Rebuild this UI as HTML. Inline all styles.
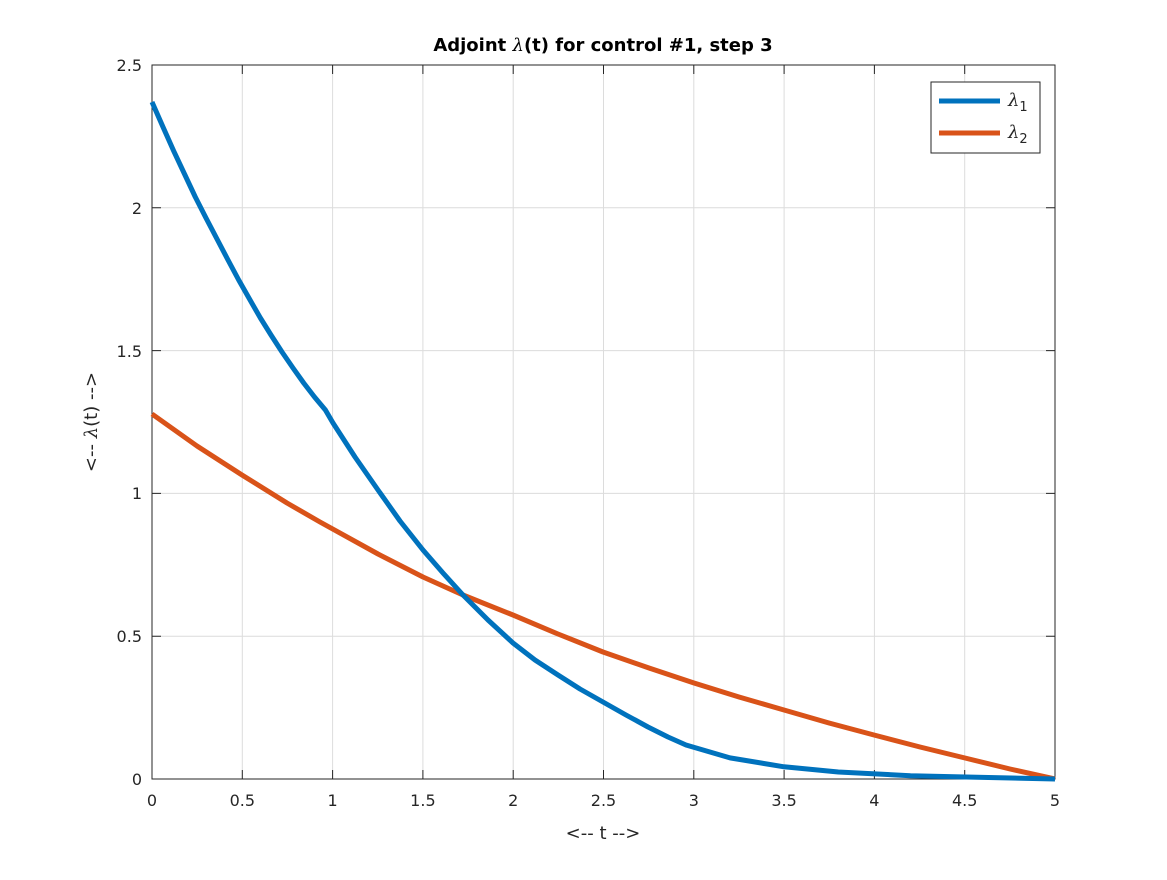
<!DOCTYPE html>
<html><head><style>body{margin:0;background:#fff}</style></head><body>
<svg width="1167" height="875" xmlns="http://www.w3.org/2000/svg" font-family="DejaVu Sans, Liberation Sans, sans-serif">
<rect width="1167" height="875" fill="#fff"/>
<g stroke="#dcdcdc" stroke-width="1">
<line x1="242.3" y1="65" x2="242.3" y2="779"/><line x1="332.6" y1="65" x2="332.6" y2="779"/>
<line x1="422.9" y1="65" x2="422.9" y2="779"/><line x1="513.2" y1="65" x2="513.2" y2="779"/>
<line x1="603.5" y1="65" x2="603.5" y2="779"/><line x1="693.8" y1="65" x2="693.8" y2="779"/>
<line x1="784.1" y1="65" x2="784.1" y2="779"/><line x1="874.4" y1="65" x2="874.4" y2="779"/>
<line x1="964.7" y1="65" x2="964.7" y2="779"/>
<line x1="152" y1="636.2" x2="1055" y2="636.2"/><line x1="152" y1="493.4" x2="1055" y2="493.4"/>
<line x1="152" y1="350.6" x2="1055" y2="350.6"/><line x1="152" y1="207.8" x2="1055" y2="207.8"/>
</g>
<rect x="152" y="65" width="903" height="714" fill="none" stroke="#262626" stroke-width="1"/>
<g stroke="#262626" stroke-width="1">
<path d="M242.3 779v-9M332.6 779v-9M422.9 779v-9M513.2 779v-9M603.5 779v-9M693.8 779v-9M784.1 779v-9M874.4 779v-9M964.7 779v-9"/>
<path d="M242.3 65v9M332.6 65v9M422.9 65v9M513.2 65v9M603.5 65v9M693.8 65v9M784.1 65v9M874.4 65v9M964.7 65v9"/>
<path d="M152 636.2h9M152 493.4h9M152 350.6h9M152 207.8h9M1055 636.2h-9M1055 493.4h-9M1055 350.6h-9M1055 207.8h-9"/>
</g>
<g font-size="16" fill="#262626" text-anchor="middle">
<text x="152" y="806">0</text><text x="242.3" y="806">0.5</text><text x="332.6" y="806">1</text><text x="422.9" y="806">1.5</text><text x="513.2" y="806">2</text><text x="603.5" y="806">2.5</text><text x="693.8" y="806">3</text><text x="784.1" y="806">3.5</text><text x="874.4" y="806">4</text><text x="964.7" y="806">4.5</text><text x="1055" y="806">5</text>
</g>
<g font-size="16" fill="#262626" text-anchor="end">
<text x="142" y="785">0</text><text x="142" y="642">0.5</text><text x="142" y="499">1</text><text x="142" y="357">1.5</text><text x="142" y="214">2</text><text x="142" y="71">2.5</text>
</g>
<text x="603" y="839" font-size="18" fill="#262626" text-anchor="middle">&lt;-- t --&gt;</text>
<text transform="translate(97,422) rotate(-90)" font-size="18" fill="#262626" text-anchor="middle">&lt;-- <tspan font-family="DejaVu Serif, serif" font-style="italic">λ</tspan>(t) --&gt;</text>
<text x="603" y="51" font-size="18" font-weight="bold" fill="#000" text-anchor="middle">Adjoint <tspan font-family="DejaVu Serif, serif" font-style="italic" font-weight="normal">λ</tspan>(t) for control #1, step 3</text>
<polyline fill="none" stroke="#D95319" stroke-width="5" stroke-linejoin="round" points="152,414 197,446 242,475 287,503 320,522 378,554 423,577 463,595 513,615 558,634 603,652 649,668 694,683 739,697 784,710 829,723 874,735 920,747 965,758 1010,769 1055,779"/>
<polyline fill="none" stroke="#0072BD" stroke-width="5" stroke-linejoin="round" points="152,102 163,127 173.7,151 184.5,174 195.3,197 206,218 217,239 228,260 238.7,280 249.5,299 260.4,318 271,335 282,352 293,368 303.7,383 314.5,397 325.4,410 333,423 355,457 378,490 400,521 423,550 443,573 463,595 488,620 513,643 535,660 558,675 580,689 603,702 626,715 648,727 668,737 686,745 730,757.9 784,766.8 838.3,772 910.5,775.7 982.8,777.4 1055,779"/>
<rect x="931" y="82" width="109" height="71" fill="#fff" stroke="#262626" stroke-width="1"/>
<line x1="939" y1="101" x2="1000" y2="101" stroke="#0072BD" stroke-width="5"/>
<line x1="939" y1="133" x2="1000" y2="133" stroke="#D95319" stroke-width="5"/>
<text x="1008" y="106" font-size="18" fill="#262626"><tspan font-family="DejaVu Serif, serif" font-style="italic">λ</tspan><tspan font-size="13" dy="5">1</tspan></text>
<text x="1008" y="138" font-size="18" fill="#262626"><tspan font-family="DejaVu Serif, serif" font-style="italic">λ</tspan><tspan font-size="13" dy="5">2</tspan></text>
</svg>
</body></html>
